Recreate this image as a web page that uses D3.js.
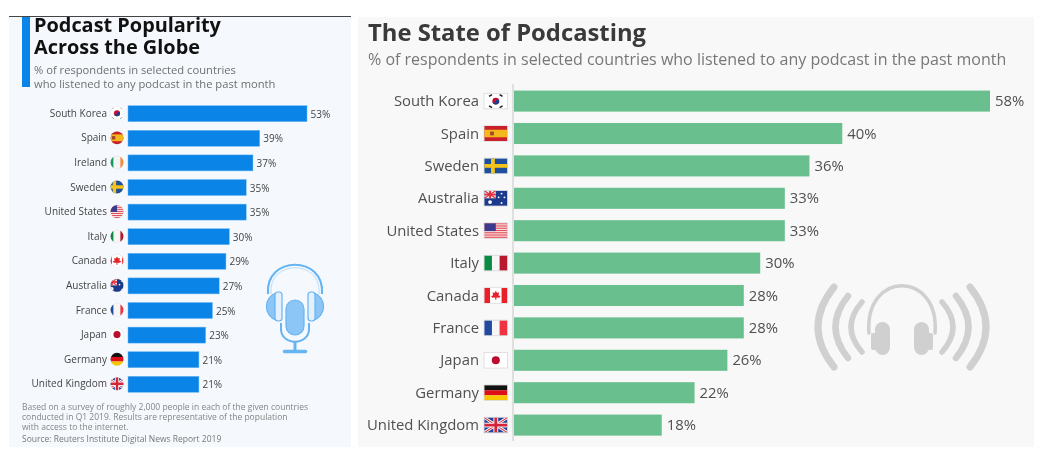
<!DOCTYPE html>
<html><head><meta charset="utf-8">
<script src="https://cdn.jsdelivr.net/npm/d3@7"></script>
<style>html,body{margin:0;padding:0;background:#fff}svg{display:block;filter:blur(0.35px)}text{font-family:"Open Sans",sans-serif}</style>
</head><body><div id="chart"></div>
<script>
const leftCountries = ["South Korea","Spain","Ireland","Sweden","United States","Italy","Canada","Australia","France","Japan","Germany","United Kingdom"];
const leftValues = [53,39,37,35,35,30,29,27,25,23,21,21];
const rightCountries = ["South Korea","Spain","Sweden","Australia","United States","Italy","Canada","France","Japan","Germany","United Kingdom"];
const rightValues = [58,40,36,33,33,30,28,28,26,22,18];
const leftTitle = ["Podcast Popularity","Across the Globe"];
const leftSubtitle = ["% of respondents in selected countries","who listened to any podcast in the past month"];
const leftNotes = ["Based on a survey of roughly 2,000 people in each of the given countries","conducted in Q1 2019. Results are representative of the population","with access to the internet."];
const leftSource = "Source: Reuters Institute Digital News Report 2019";
const rightTitle = "The State of Podcasting";
const rightSubtitle = "% of respondents in selected countries who listened to any podcast in the past month";

const svg = d3.select("#chart").append("svg").attr("width",1045).attr("height",475);
const defs = svg.append("defs");
svg.append("rect").attr("width",1045).attr("height",475).attr("fill","#fff");

// Flags are drawn in a 24x16 box centred on the origin
function flag(g, name){
  const R=(x,y,w,h,c)=>g.append("rect").attr("x",x-12).attr("y",y-8).attr("width",w).attr("height",h).attr("fill",c);
  const L=(x1,y1,x2,y2,c,w)=>g.append("line").attr("x1",x1-12).attr("y1",y1-8).attr("x2",x2-12).attr("y2",y2-8).attr("stroke",c).attr("stroke-width",w);
  const C=(x,y,r,c)=>g.append("circle").attr("cx",x-12).attr("cy",y-8).attr("r",r).attr("fill",c);
  switch(name){
    case "South Korea": R(0,0,24,16,"#fff"); C(12,8,3.6,"#c8102e");
      g.append("path").attr("d","M-3.6,0A3.6,3.6 0 0 0 3.6,0A1.8,1.8 0 0 0 0,0A1.8,1.8 0 0 1 -3.6,0Z").attr("fill","#1a3f8f");
      L(5,3,8,1,"#222",1.6);L(16,1,19,3,"#222",1.6);L(5,13,8,15,"#222",1.6);L(16,15,19,13,"#222",1.6);break;
    case "Spain": R(0,0,24,16,"#c9202c"); R(0,4,24,8,"#f4b81c"); R(6,6,4,4,"#a3472c"); break;
    case "Ireland": R(0,0,8,16,"#169b62"); R(8,0,8,16,"#f4f4f4"); R(16,0,8,16,"#f58a3a"); break;
    case "Sweden": R(0,0,24,16,"#1d4f9c"); R(7,0,4,16,"#f6c418"); R(0,6,24,4,"#f6c418"); break;
    case "United States": R(0,0,24,16,"#fbe4e4");
      [0,1,2,3,4,5,6].forEach(i=>R(0,i*2.4,24,1.2,"#e0515c")); R(0,0,12,8.4,"#3c3b8e"); break;
    case "Italy": R(0,0,8,16,"#0b8a44"); R(8,0,8,16,"#f6f6f6"); R(16,0,8,16,"#b8192e"); break;
    case "Canada": R(0,0,24,16,"#fff"); R(0,0,6,16,"#e8202a"); R(18,0,6,16,"#e8202a");
      g.append("path").attr("d","M0,-5L1.4,-2.6L3.4,-3.4L2.8,0L5,0.4L3.6,2.4L0.6,2.2V4.6H-0.6V2.2L-3.6,2.4L-5,0.4L-2.8,0L-3.4,-3.4L-1.4,-2.6Z").attr("fill","#e8202a"); break;
    case "Australia": R(0,0,24,16,"#1b3a8c"); R(0,0,12,8,"#e8eaf2"); L(0,0,12,8,"#e4303c",1.2); L(12,0,0,8,"#e4303c",1.2); R(5,0,2,8,"#e4303c"); R(0,3,12,2,"#e4303c");
      C(6,12,2,"#fff");C(18,3,1,"#fff");C(15,7,1,"#fff");C(21,7,1,"#fff");C(18,13,1,"#fff"); break;
    case "France": R(0,0,8,16,"#1f4aa0"); R(8,0,8,16,"#f6f6f6"); R(16,0,8,16,"#ef3340"); break;
    case "Japan": R(0,0,24,16,"#fff"); C(12,8,4.2,"#bc0d2e"); break;
    case "Germany": R(0,0,24,5.4,"#111"); R(0,5.4,24,5.3,"#de0f18"); R(0,10.7,24,5.3,"#f7c600"); break;
    case "United Kingdom": R(0,0,24,16,"#24408e"); L(0,0,24,16,"#fff",3); L(24,0,0,16,"#fff",3); L(0,0,24,16,"#d3263a",1.1); L(24,0,0,16,"#d3263a",1.1);
      R(9.5,0,5,16,"#fff"); R(0,5.5,24,5,"#fff"); R(10.5,0,3,16,"#d3263a"); R(0,6.5,24,3,"#d3263a"); break;
  }
}

// ---------- Left panel ----------
const left = svg.append("g");
defs.append("clipPath").attr("id","lp").append("rect").attr("x",9).attr("y",17).attr("width",342).attr("height",430);
const lp = left.append("g").attr("clip-path","url(#lp)");
lp.append("rect").attr("x",9).attr("y",17).attr("width",342).attr("height",430).attr("fill","#f5f9fd");
lp.append("rect").attr("x",22).attr("y",17).attr("width",8).attr("height",70).attr("fill","#0a84e6");
lp.selectAll(".lt").data(leftTitle).join("text").attr("x",34).attr("y",(d,i)=>32+i*22.3)
  .attr("font-size",19.9).attr("font-weight",700).attr("fill","#111").text(d=>d);
lp.selectAll(".ls").data(leftSubtitle).join("text").attr("x",34).attr("y",(d,i)=>74+i*13.6)
  .attr("font-size",11.2).attr("fill","#6f6f6f").text(d=>d);
left.append("line").attr("x1",9).attr("x2",351).attr("y1",16.5).attr("y2",16.5).attr("stroke","#444").attr("stroke-width",1);

const lx = d3.scaleLinear().domain([0,53]).range([128,307]);
const ly = d3.scaleBand().domain(leftCountries).range([101.4,396.6]).paddingInner(0.35).paddingOuter(0.175);
const lrow = left.selectAll(".lrow").data(leftCountries).join("g");
lrow.append("rect").attr("x",lx(0)).attr("y",d=>ly(d)).attr("height",ly.bandwidth())
  .attr("width",(d,i)=>lx(leftValues[i])-lx(0)).attr("fill","#0a84e6").attr("stroke","#6fb8f2").attr("stroke-width",0.5);
lrow.append("text").attr("x",107).attr("y",d=>ly(d)+ly.bandwidth()/2+3)
  .attr("text-anchor","end").attr("font-size",10).attr("fill","#444").text(d=>d);
lrow.append("text").attr("x",(d,i)=>lx(leftValues[i])+3.5).attr("y",d=>ly(d)+ly.bandwidth()/2+4)
  .attr("font-size",10).attr("fill","#444").text((d,i)=>leftValues[i]+"%");
leftCountries.forEach((d,i)=>{
  const cy=ly(d)+ly.bandwidth()/2-0.5;
  defs.append("clipPath").attr("id","lc"+i).append("circle").attr("r",6.4);
  const f=left.append("g").attr("transform",`translate(117,${cy})`);
  f.append("circle").attr("r",6.8).attr("fill","#e4e4e4");
  const inner=f.append("g").attr("clip-path",`url(#lc${i})`);
  flag(inner.append("g").attr("transform","scale(0.85)"),d);
});
lp.selectAll(".ln").data(leftNotes).join("text").attr("x",22).attr("y",(d,i)=>410+i*10.2)
  .attr("font-size",8.5).attr("fill","#858585").text(d=>d);
lp.append("text").attr("x",22).attr("y",442).attr("font-size",8.5).attr("fill","#777").text(leftSource);

// Left headset + microphone icon
const li = left.append("g").attr("transform","translate(295,310)");
const lb="#66b4f2", lf="#8cc6f7";
li.append("path").attr("d","M-27,-16C-30,-55 30,-55 27,-16").attr("fill","none").attr("stroke",lb).attr("stroke-width",2.2);
li.append("path").attr("d","M-24,-16C-27,-51 27,-51 24,-16").attr("fill","none").attr("stroke","#bcdcf9").attr("stroke-width",1);
li.append("path").attr("d","M-19,-17A13,14 0 0 0 -19,10Z").attr("fill",lf).attr("stroke",lb).attr("stroke-width",1.2);
li.append("path").attr("d","M19,-17A13,14 0 0 1 19,10Z").attr("fill",lf).attr("stroke",lb).attr("stroke-width",1.2);
li.append("rect").attr("x",-20).attr("y",-18).attr("width",7).attr("height",29).attr("rx",3).attr("fill","#e4f1fd").attr("stroke",lb).attr("stroke-width",1.2);
li.append("rect").attr("x",13).attr("y",-18).attr("width",7).attr("height",29).attr("rx",3).attr("fill","#e4f1fd").attr("stroke",lb).attr("stroke-width",1.2);
li.append("rect").attr("x",-9).attr("y",-10).attr("width",18).attr("height",35).attr("rx",9).attr("fill",lf).attr("stroke",lb).attr("stroke-width",1.2);
li.append("path").attr("d","M-14,13V19C-14,36 14,36 14,19V13").attr("fill","none").attr("stroke",lb).attr("stroke-width",2);
li.append("line").attr("x1",0).attr("x2",0).attr("y1",32).attr("y2",41).attr("stroke",lb).attr("stroke-width",3);
li.append("line").attr("x1",-10.5).attr("x2",10.5).attr("y1",41.5).attr("y2",41.5).attr("stroke",lb).attr("stroke-width",3.5).attr("stroke-linecap","round");

// ---------- Right panel ----------
const right = svg.append("g");
right.append("rect").attr("x",358).attr("y",17).attr("width",676).attr("height",430).attr("fill","#f8f8f8");
right.append("text").attr("x",368).attr("y",41).attr("font-size",23.8).attr("font-weight",700).attr("fill","#3a3a3a").text(rightTitle);
right.append("text").attr("x",368).attr("y",64.5).attr("font-size",16).attr("fill","#777").text(rightSubtitle);

const rx = d3.scaleLinear().domain([0,58]).range([514,990]);
const ry = d3.scaleBand().domain(rightCountries).range([84.9,441.3]).paddingInner(0.35).paddingOuter(0.175);
const rrow = right.selectAll(".rrow").data(rightCountries).join("g");
rrow.append("rect").attr("x",rx(0)).attr("y",d=>ry(d)).attr("height",ry.bandwidth())
  .attr("width",(d,i)=>rx(rightValues[i])-rx(0)).attr("fill","#6abf8e");
right.append("line").attr("x1",513).attr("x2",513).attr("y1",84).attr("y2",441).attr("stroke","#cfcfcf").attr("stroke-width",1.2);
rrow.append("text").attr("x",479).attr("y",d=>ry(d)+ry.bandwidth()/2+5)
  .attr("text-anchor","end").attr("font-size",14.85).attr("fill","#505050").text(d=>d);
rrow.append("text").attr("x",(d,i)=>rx(rightValues[i])+5).attr("y",d=>ry(d)+ry.bandwidth()/2+5)
  .attr("font-size",14.85).attr("fill","#505050").text((d,i)=>rightValues[i]+"%");
rightCountries.forEach((d,i)=>{
  const cy=ry(d)+ry.bandwidth()/2;
  defs.append("clipPath").attr("id","rc"+i).append("rect").attr("x",-11.5).attr("y",-7.5).attr("width",23).attr("height",15);
  const f=right.append("g").attr("transform",`translate(495.8,${cy})`);
  f.append("rect").attr("x",-12.2).attr("y",-8.2).attr("width",24.4).attr("height",16.4).attr("fill","#dcdcdc");
  flag(f.append("g").attr("clip-path",`url(#rc${i})`).append("g").attr("transform","scale(0.96,0.94)"),d);
});

// Right headphones with sound waves
const grey = "#d0d0d0";
const ri = right.append("g").attr("transform","translate(902,327)").attr("fill","none").attr("stroke",grey).attr("stroke-linecap","round");
ri.append("path").attr("d","M-33,6C-38,-57 38,-57 33,6").attr("stroke-width",3.6);
[-1,1].forEach(s=>{
  ri.append("rect").attr("x",s<0?-27:12).attr("y",-5).attr("width",15).attr("height",33).attr("rx",7.5).attr("fill",grey).attr("stroke","none");
  ri.append("rect").attr("x",s<0?-31:25).attr("y",6).attr("width",6).attr("height",17).attr("rx",2).attr("fill",grey).attr("stroke","none");
  [[40,25,62,5.5],[54,31,79,6.5],[68,40,100,7]].forEach(([x,y,c,w])=>{
    ri.append("path").attr("d",`M${s*x},${-y}Q${s*c},0 ${s*x},${y}`).attr("stroke-width",w);
  });
});
</script></body></html>
